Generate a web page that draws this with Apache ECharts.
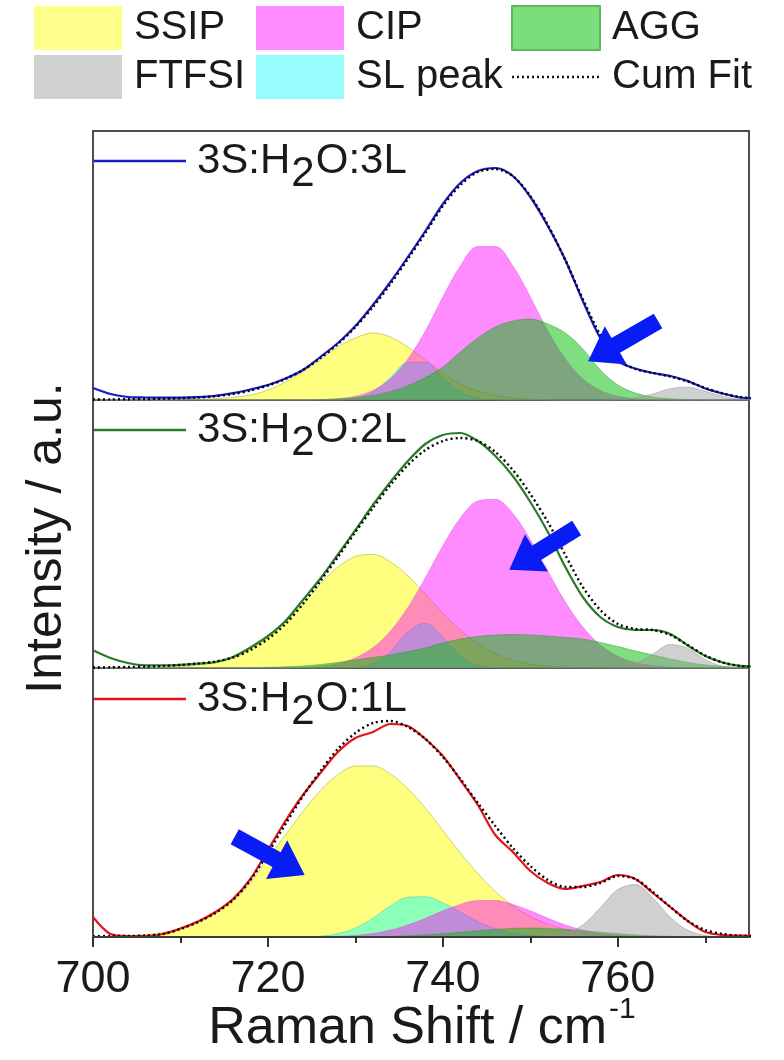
<!DOCTYPE html>
<html><head><meta charset="utf-8">
<script src="https://cdn.jsdelivr.net/npm/echarts@6/dist/echarts.min.js"></script>
<style>html,body{margin:0;padding:0;background:#fff}#c{width:784px;height:1060px}</style>
</head><body><div id="c"></div>
<script>
// ---------- data (Raman shift, cm-1) ----------
const shift = [700,702,704,706,708,710,712,714,716,718,720,722,724,726,728,730,732,734,736,738,740,742,744,746,748,750,752,754,756,758,760,762,764,766,768,770,772,774,776];
const majorTicks = [700,720,740,760];
const minorTicks = [710,730,750,770];
const panelNames = ['3S:H2O:3L','3S:H2O:2L','3S:H2O:1L'];
const componentNames = ['SSIP','SL peak','CIP','AGG','FTFSI'];

// 3S:H2O:3L (top)
const meas3L = [12,6,3,2.5,2.3,2.3,2.8,4.2,6.8,10.5,15,21.5,30,43,57,74,95,118,143,169,196,217,229,232,224,203,174,140,99,62,39,31.5,27,24,19,11.5,6.5,2.5,1.5];
const fit3L = [0.5,0.6,0.8,1,1.3,1.8,2.5,3.8,6,9.5,14.5,21,30,42,56,73,93,116,141,167,194,215,228,231,224,204,175,140,101,65,40,31,27,23.5,18.5,12,6.5,3,1.5];
const ssip3L = [0,0,0,0,0,0.3,0.6,1.3,2.6,5,10,18,28,40,53,62,67,63,53,40,27,16,9,4.5,2,0.8,0.3,0,0,0,0,0,0,0,0,0,0,0,0];
const sl3L = [0,0,0,0,0,0,0,0,0,0,0,0,0,0,0,1.8,8,22.5,37.5,37.5,22.5,8,1.8,0.2,0,0,0,0,0,0,0,0,0,0,0,0,0,0,0];
const cip3L = [0,0,0,0,0,0,0,0,0,0,0,0,0,0.4,1.3,3.8,9.6,21,41,69,103,134,153.5,153.5,134,103,69,41,21,9.6,3.8,1.3,0.4,0,0,0,0,0,0];
const agg3L = [0,0,0,0,0,0,0,0,0,0,0,0,0,0.4,1,2.3,4.5,8.3,14.2,22.5,33,48,62,73,79,81,76,67,51,30,15,7,3,1.2,0.4,0,0,0,0];
const ftfsi3L = [0,0,0,0,0,0,0,0,0,0,0,0,0,0,0,0,0,0,0,0,0,0,0,0,0,0,0,0,0,0,0.4,1.9,6,11.3,12.8,8.7,3.6,0.9,0.1];

// 3S:H2O:2L (middle)
const meas2L = [17.7,10,5,2.7,2.6,3.2,4.3,5.8,11,20.5,32,47,68,89.5,113.5,138,163,186,207,224,233,235,227,212,192,166,136,101,71,51,41,38,38,34,22.5,12,5.5,2.2,1.5];
const fit2L = [0.5,0.7,1,1.4,2,3,4.5,6.5,10.5,18,29,44,64,87,111,136,160,183,203,218,227,230,227,216,198,174,146,113,81,58,44,39,38,33,23,12.5,5.5,2,1];
const ssip2L = [0,0,0,0.3,0.7,1.4,3.1,6,10,18.5,30,45.5,64,84,101,111.5,113.5,106.3,92.1,74,55,37.8,24.1,14.2,7.8,3.9,1.8,0.8,0.3,0,0,0,0,0,0,0,0,0,0];
const sl2L = [0,0,0,0,0,0,0,0,0,0,0,0,0,0,0,0.6,4,16.3,36.3,44.7,30.4,11.4,2.4,0.3,0,0,0,0,0,0,0,0,0,0,0,0,0,0,0];
const cip2L = [0,0,0,0,0,0,0,0,0,0,0,0,0.6,1.8,4.6,10.1,20.3,36.7,60.5,90.3,122.2,150,167,168.7,154.5,128.3,96.7,66,40.9,23,11.8,5.4,2.3,0.9,0.3,0,0,0,0];
const agg2L = [0,0,0,0,0,0,0,0,0,0,0.6,1.2,2,3.5,5.5,8,10.5,13,16.5,20,25,29,31.5,33,33.5,33,32,30.5,29,25.5,21.5,17,13,9,5.5,3,1.5,0.6,0.2];
const ftfsi2L = [0,0,0,0,0,0,0,0,0,0,0,0,0,0,0,0,0,0,0,0,0,0,0,0,0,0,0,0,0,0,0.6,4.1,13.9,23.5,19.7,8.3,1.7,0.2,0];

// 3S:H2O:1L (bottom)
const meas1L = [20,3,1,1,3,8.5,15.5,25,38,58,87,116,142,164,185,199,205,213,211,198,181,157,132,102,85,66,54,48,51,55,62,58,44,30,16,5,2,1.5,1.5];
const fit1L = [0.5,1,1,1.5,3,8,15,24,37,57,84,113,141,166,188,204,214,216,210,198,180,158,134,111,89,71,57,50,50,54,61,58,45,30,16,7,3,1.2,0.5];
const ssip1L = [0,0.3,1.1,2.3,4.5,8,14,23.5,36,54,78.8,102,125.4,146.4,162.3,170.9,171,163,148.3,128.8,106.6,84.1,63.4,45.5,31.2,20.4,12.8,7.6,4.3,2.3,1.2,0.6,0.3,0,0,0,0,0,0];
const sl1L = [0,0,0,0,0,0,0,0,0,0,0,0,0,0.9,3.3,8.9,18.8,31,39.7,40.2,34.2,24.9,15.4,8.1,3.7,1.4,0.5,0,0,0,0,0,0,0,0,0,0,0,0];
const cip1L = [0,0,0,0,0,0,0,0,0,0,0,0,0,0,0.7,1.6,3.5,6.9,12,18.7,26.2,32.6,36.5,36.5,32.6,26.2,18.7,12,6.9,3.5,1.6,0.7,0,0,0,0,0,0,0];
const agg1L = [0,0,0,0,0,0,0,0,0,0,0,0,0,0,0,0,0,0.6,1.2,2.1,3.3,4.7,6.2,7.6,8.6,9,8.6,7.6,6.2,4.7,3.3,2.1,1.2,0.6,0.3,0,0,0,0];
const ftfsi1L = [0,0,0,0,0,0,0,0,0,0,0,0,0,0,0,0,0,0,0,0,0,0,0,0,0,0,0.6,3.4,12.1,29.2,47.5,52.4,39.1,19.7,6.8,1.6,0.2,0,0];

// annotation arrows in data coordinates (panel, tip, tail)
const arrowNotes = [
  {panel:0, tip:[756.6,38.7], tail:[764.6,79]},
  {panel:1, tip:[747.6,98.3], tail:[755.3,140]},
  {panel:2, tip:[724.2,62], tail:[716.2,100.3]}
];

// ---------- styling / layout ----------
const FONT = '"Liberation Sans", Arial, Helvetica, sans-serif';
const TXT = '#1a1a1a';
const panels = [
  {meas:meas3L, fit:fit3L, comps:[ssip3L,sl3L,cip3L,agg3L,ftfsi3L], color:'#1a1ac8', grid:{left:93,right:35,top:131,height:269}, ymax:269, labelY:161},
  {meas:meas2L, fit:fit2L, comps:[ssip2L,sl2L,cip2L,agg2L,ftfsi2L], color:'#2b7a2b', grid:{left:93,right:35,top:400,height:268}, ymax:268, labelY:430},
  {meas:meas1L, fit:fit1L, comps:[ssip1L,sl1L,cip1L,agg1L,ftfsi1L], color:'#e3141e', grid:{left:93,right:35,top:668,height:269}, ymax:269, labelY:699}
];
const compFill = ['rgba(255,255,0,0.5)','rgba(0,255,255,0.45)','rgba(255,0,255,0.45)','rgba(0,190,0,0.5)','rgba(150,150,150,0.45)'];
const compEdge = ['rgba(190,190,70,0.7)','rgba(60,200,200,0.5)','rgba(220,90,220,0.5)','rgba(60,150,60,0.5)','rgba(150,150,150,0.5)'];

const pairs = arr => shift.map((x,i)=>[x, arr[i]]);

const grid = [], xAxis = [], yAxis = [], series = [];
panels.forEach((p, k) => {
  grid.push(Object.assign({show:true, borderColor:'#4d4d4d', borderWidth:2, backgroundColor:'transparent'}, p.grid));
  yAxis.push({gridIndex:k, type:'value', min:0, max:p.ymax, show:false});
});
xAxis.push({gridIndex:0, type:'value', min:700, max:775, show:false});
xAxis.push({gridIndex:1, type:'value', min:700, max:775, show:false});
xAxis.push({gridIndex:2, type:'value', min:700, max:775, position:'bottom', z:10,
  axisLine:{show:true, lineStyle:{color:'#3a3a3a', width:2}},
  axisTick:{show:true, length:10, customValues:majorTicks, lineStyle:{color:'#333', width:2}},
  axisLabel:{show:true, customValues:majorTicks, fontSize:45, fontFamily:FONT, color:TXT, margin:20},
  splitLine:{show:false}});
xAxis.push({gridIndex:2, type:'value', min:700, max:775, position:'bottom', z:10,
  axisLine:{show:false},
  axisTick:{show:true, length:6, customValues:minorTicks, lineStyle:{color:'#333', width:2}},
  axisLabel:{show:false}, splitLine:{show:false}});

panels.forEach((p, k) => {
  p.comps.forEach((arr, j) => {
    series.push({type:'line', name:componentNames[j], xAxisIndex:k, yAxisIndex:k, data:pairs(arr),
      smooth:0.35, symbol:'none', silent:true, z:2+j*0.01,
      lineStyle:{color:compEdge[j], width:1}, areaStyle:{color:compFill[j], opacity:1}});
  });
  series.push({type:'line', name:panelNames[k], xAxisIndex:k, yAxisIndex:k, data:pairs(p.meas),
    smooth:0.3, symbol:'none', silent:true, z:3, lineStyle:{color:p.color, width:2.2}});
  series.push({type:'line', name:'Cum Fit', xAxisIndex:k, yAxisIndex:k, data:pairs(p.fit),
    smooth:0.3, symbol:'none', silent:true, z:4, lineStyle:{color:'#000', width:2.4, type:[2,3]}});
});

// ---------- text / graphic ----------
const mc = document.createElement('canvas').getContext('2d');
function tw(t, fs){ mc.font = fs + 'px ' + FONT; return mc.measureText(t).width; }

const graphic = [];
// legend (3 columns x 2 rows)
const legendCells = [
  {name:'SSIP', col:0, row:0, fill:'rgb(255,255,140)'},
  {name:'CIP', col:1, row:0, fill:'rgb(255,140,255)'},
  {name:'AGG', col:2, row:0, fill:'rgb(122,222,122)', stroke:'#5fb85f'},
  {name:'FTFSI', col:0, row:1, fill:'rgb(208,208,208)'},
  {name:'SL peak', col:1, row:1, fill:'rgb(150,252,252)'},
  {name:'Cum Fit', col:2, row:1, dotted:true}
];
const colX = [34, 256, 512], swW = 88, rowY = [6, 55], swH = 44, LFS = 40;
legendCells.forEach((c, i) => {
  const x = colX[c.col], y = rowY[c.row];
  if (c.dotted) {
    graphic.push({id:'lgl'+i, type:'line', shape:{x1:x, y1:y+swH/2, x2:x+swW, y2:y+swH/2},
      style:{stroke:'#111', lineWidth:2.4, lineDash:[2,3]}});
  } else {
    graphic.push({id:'lgr'+i, type:'rect', shape:{x:x, y:y, width:swW, height:swH},
      style:{fill:c.fill, stroke:c.stroke || null, lineWidth:c.stroke?2:0}});
  }
  graphic.push({id:'lgt'+i, type:'text', x:x+swW+12, y:y+swH/2,
    style:{text:c.name, fontSize:LFS, fontFamily:FONT, fill:TXT, verticalAlign:'middle', align:'left'}});
});

// panel labels with subscript
const PFS = 42;
panels.forEach((p, k) => {
  const y = p.labelY;
  graphic.push({id:'pl'+k, type:'line', shape:{x1:94, y1:y, x2:186, y2:y}, style:{stroke:p.color, lineWidth:2.5}});
  const parts = panelNames[k].split('H2O');
  const a = parts[0] + 'H', b = '2', c = 'O' + parts[1];
  let x = 197;
  graphic.push({id:'pa'+k, type:'text', x:x, y:y, style:{text:a, fontSize:PFS, fontFamily:FONT, fill:TXT, verticalAlign:'middle'}});
  x += tw(a, PFS) + 1;
  graphic.push({id:'pb'+k, type:'text', x:x, y:y+13, style:{text:b, fontSize:PFS, fontFamily:FONT, fill:TXT, verticalAlign:'middle'}});
  x += tw(b, PFS) + 1;
  graphic.push({id:'pc'+k, type:'text', x:x, y:y, style:{text:c, fontSize:PFS, fontFamily:FONT, fill:TXT, verticalAlign:'middle'}});
});

// axis titles
const XFS = 52, SFS = 30;
const xt1 = 'Raman Shift / cm', xt2 = '-1';
const xw = tw(xt1, XFS) + tw(xt2, SFS);
const xStart = 421 - xw/2;
graphic.push({id:'xt1', type:'text', x:xStart, y:1029, style:{text:xt1, fontSize:XFS, fontFamily:FONT, fill:TXT, verticalAlign:'middle'}});
graphic.push({id:'xt2', type:'text', x:xStart + tw(xt1, XFS) + 2, y:1010, style:{text:xt2, fontSize:SFS, fontFamily:FONT, fill:TXT, verticalAlign:'middle'}});
graphic.push({id:'yt', type:'text', x:47, y:538, rotation:Math.PI/2,
  style:{text:'Intensity / a.u.', fontSize:50, fontFamily:FONT, fill:TXT, align:'center', verticalAlign:'middle'}});

const chart = echarts.init(document.getElementById('c'), null, {renderer:'canvas'});
chart.setOption({
  animation:false, backgroundColor:'#fff',
  grid, xAxis, yAxis, series, graphic
});

// arrows: convert data coords to pixels through each panel's axes
function arrowPts(tip, tail){
  const dx = tail[0]-tip[0], dy = tail[1]-tip[1], L = Math.hypot(dx,dy);
  const ux = dx/L, uy = dy/L, nx = -uy, ny = ux;
  const hl = 32, hw = 22, sw = 8.5;
  const bx = tip[0]+ux*hl, by = tip[1]+uy*hl;
  return [tip, [bx+nx*hw, by+ny*hw], [bx+nx*sw, by+ny*sw], [tail[0]+nx*sw, tail[1]+ny*sw],
          [tail[0]-nx*sw, tail[1]-ny*sw], [bx-nx*sw, by-ny*sw], [bx-nx*hw, by-ny*hw]];
}
const arrowEls = arrowNotes.map((a, i) => {
  const si = a.panel * 7;
  const tip = chart.convertToPixel({seriesIndex:si}, a.tip);
  const tail = chart.convertToPixel({seriesIndex:si}, a.tail);
  return {id:'arrow'+i, type:'polygon', z:100, shape:{points:arrowPts(tip, tail)}, style:{fill:'#0a1cf5'}};
});
chart.setOption({graphic: arrowEls});
</script>
</body></html>
